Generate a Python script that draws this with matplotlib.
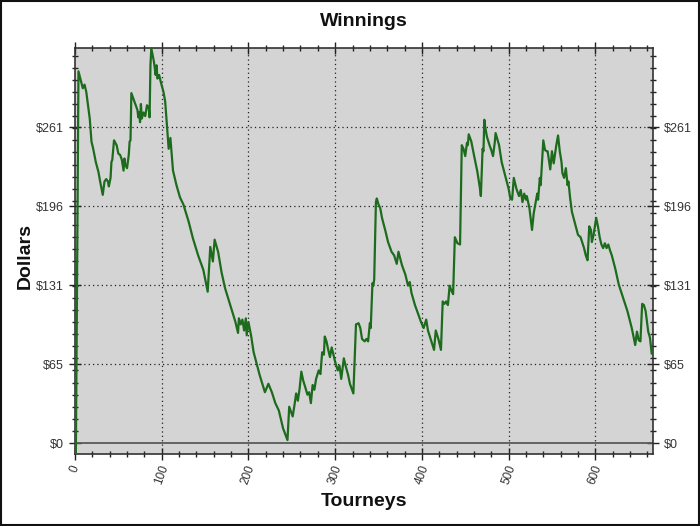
import matplotlib
matplotlib.use("Agg")
import matplotlib.pyplot as plt
from matplotlib.patches import Rectangle
from matplotlib.ticker import MultipleLocator, FixedLocator

plt.rcParams["font.family"] = ["Liberation Sans", "DejaVu Sans"]

# ---- data ----
tourneys = [1, 4, 8, 9, 11, 13, 15, 17, 19, 21, 24, 27, 29, 32, 34, 36, 38, 39, 41, 42, 43, 45, 48, 50, 52, 54,
            56, 57, 58, 60, 62, 63, 64, 65, 68, 70, 72, 73, 74, 75, 76, 77, 79, 81, 83, 85, 86, 87, 88, 91, 93,
            94, 95, 97, 99, 102,
            104, 106, 108, 110, 111, 113, 117, 121, 125, 131, 136, 142, 148, 153, 155, 156, 159, 161, 165, 169,
            173, 179, 185, 188, 189, 191, 193, 195, 197, 198, 200, 203, 206, 210, 213,
            219, 223, 227, 231, 235, 240, 245, 247, 249, 251, 253, 255, 257, 259, 261, 263, 266, 268, 270, 272,
            274, 276, 278, 281, 283, 285, 287, 288, 290, 292, 294, 296, 298, 300, 303, 305, 307, 310, 312, 315,
            317, 321, 324, 327, 329,
            331, 334, 336, 338, 340, 341, 343, 344, 345, 347, 348, 350, 352, 354, 358, 361, 365, 368, 371, 373,
            377, 381, 384, 386, 388, 392, 396, 399, 402, 405, 407, 411, 414, 416, 419, 422, 424, 426, 428, 430,
            432, 434, 436, 438, 441, 444, 446, 448, 450, 452, 453, 454, 457, 460, 464, 467, 468, 470, 471, 472,
            473, 475, 478, 480, 482, 484, 485, 489, 492, 496, 500, 502, 504, 506, 509, 512, 514, 516, 518, 520,
            521, 524, 527, 529, 531, 533, 534, 536, 537, 540, 542, 544,
            545, 548, 550, 552, 555, 557, 559, 561, 562, 564, 566, 568, 569, 571, 573, 577, 580, 583, 587, 589,
            591, 593, 595, 596, 598, 601, 603, 605, 607, 609, 611, 613, 615, 617, 619, 623, 627, 632, 637, 642,
            646, 648, 650, 652, 654, 656, 658, 661, 663, 665]
dollars = [-9, 307, 296, 293, 296, 290, 279, 268, 249, 243, 232, 224, 216, 205, 216, 218, 216, 212, 219, 232, 234,
           250, 246, 239, 238, 234, 225, 235, 230, 227, 238, 249, 250, 289, 283, 279, 275, 269, 273, 265, 280, 268,
           273, 270, 279, 277, 269, 312, 326, 315, 304, 312, 301, 304, 298, 290,
           282, 263, 243, 252, 243, 225, 213, 203, 197, 183, 169, 155, 143, 125, 150, 162, 150, 168, 158, 141,
           128, 114, 100, 91, 103, 98, 102, 93, 103, 89, 100, 89, 75, 64, 56,
           42, 49, 42, 33, 27, 12, 2.5, 30, 26, 22, 31, 41, 35, 45, 59, 52, 45, 40, 42, 33,
           48, 44, 53, 60, 57, 75, 73, 88, 84, 77, 71, 79, 73, 67, 60, 64, 53, 70, 64, 56,
           49, 41, 98, 99, 95,
           86, 84, 86, 84, 99, 95, 132, 130, 135, 199, 202, 197, 194, 186, 175, 166, 158, 155, 148, 158,
           147, 139, 130, 133, 124, 114, 106, 100, 95, 102, 93, 84, 77, 93, 86, 77, 117, 115, 117, 114,
           130, 126, 123, 170, 165, 164, 246, 243, 237, 248, 246, 255, 249, 238, 224, 210, 204, 243, 241, 267,
           261, 253, 246, 242, 237, 248, 256, 246, 232, 221, 210, 202, 201, 219, 210, 204, 209, 199, 206, 201,
           204, 194, 176, 190, 198, 206, 201, 219, 213, 250, 242, 241,
           241, 226, 241, 231, 246, 254, 241, 232, 223, 219, 227, 213, 216, 202, 191, 180, 172, 170, 161, 155,
           151, 179, 176, 166, 172, 186, 179, 170, 164, 161, 165, 161, 164, 159, 155, 144, 131, 120, 109, 95,
           81, 92, 85, 84, 115, 114, 109, 92, 87, 74]

y_ticks = [0, 65.25, 130.5, 195.75, 261]
y_tick_labels = ["$0", "$65", "$131", "$196", "$261"]
x_ticks = [0, 100, 200, 300, 400, 500, 600]
x_tick_labels = ["0", "100", "200", "300", "400", "500", "600"]

# ---- figure ----
fig = plt.figure(figsize=(7.0, 5.26), dpi=100)
fig.patch.set_facecolor("white")
ax = fig.add_axes([75 / 700, 72 / 526, 578 / 700, 406 / 526])
ax.set_facecolor("#d4d4d4")

ax.plot(tourneys, dollars, color="#1d6b1d", lw=1.6, zorder=3, solid_joinstyle="round")
ax.axhline(0, color="#5a5a5a", lw=1.3, zorder=2)

ax.set_xlim(0, 666.5)
ax.set_ylim(-9, 326.25)

ax.xaxis.set_major_locator(FixedLocator(x_ticks))
ax.set_xticklabels(x_tick_labels, rotation=70, fontsize=8.5, color="#333333")
ax.xaxis.set_minor_locator(MultipleLocator(20))
ax.yaxis.set_major_locator(FixedLocator(y_ticks))
ax.set_yticklabels(y_tick_labels, fontsize=9, color="#333333")
ax.yaxis.set_minor_locator(MultipleLocator(10))

ax.tick_params(which="both", direction="inout", top=True, right=True,
               labelright=True, color="#222222", width=1.0)
ax.tick_params(which="major", length=8, pad=4)
ax.tick_params(which="minor", length=5)
ax.tick_params(axis="x", which="major", pad=3)

for x in x_ticks[1:]:
    ax.axvline(x, color="#222222", lw=0.9, ls=(0, (1, 2.5)), zorder=1)
for y in y_ticks[1:]:
    ax.axhline(y, color="#222222", lw=0.9, ls=(0, (1, 2.5)), zorder=1)

for sp in ax.spines.values():
    sp.set_color("#333333")
    sp.set_linewidth(1.2)

fig.text(364 / 700, 1 - 22 / 526, "Winnings", ha="center", va="center",
         fontsize=14, fontweight="bold", color="#111111")
fig.text(364 / 700, 1 - 501 / 526, "Tourneys", ha="center", va="center",
         fontsize=14, fontweight="bold", color="#111111")
fig.text(25 / 700, 1 - 256 / 526, "Dollars", ha="center", va="center", rotation=90,
         fontsize=14, fontweight="bold", color="#111111")

fig.patches.append(Rectangle((0.001, 0.001), 0.998, 0.998, transform=fig.transFigure,
                             fill=False, edgecolor="#111111", lw=1.5))

fig.savefig("out.png", dpi=100)
